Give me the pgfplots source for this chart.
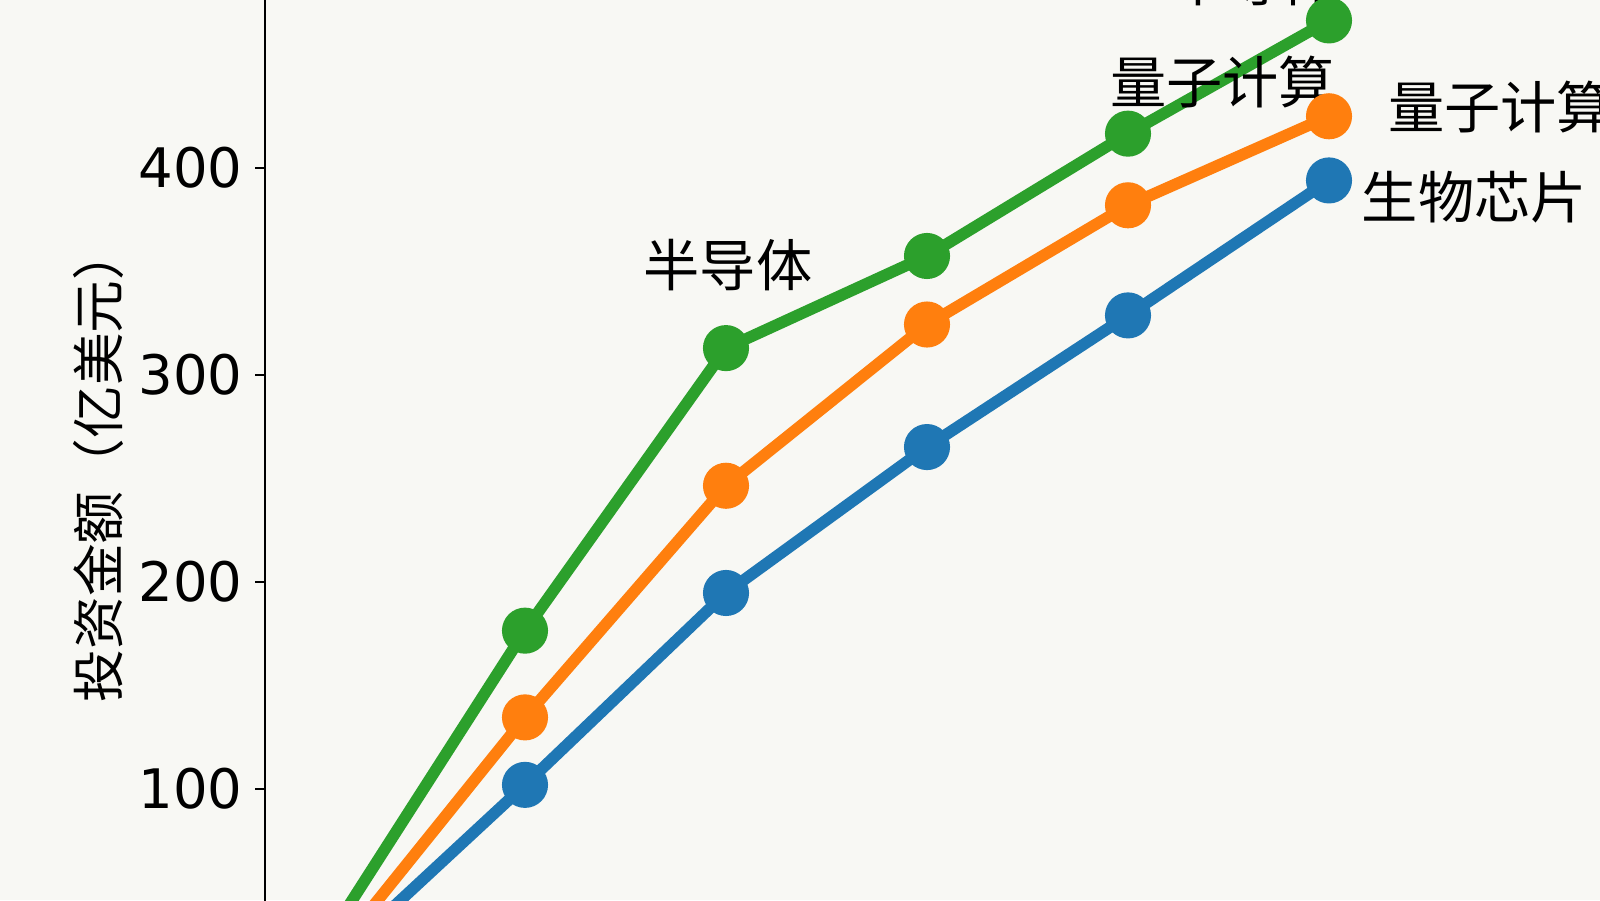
\documentclass[border=0pt]{standalone}
\usepackage{fontspec}
\setmainfont{DejaVu Sans}
\newfontfamily\cjk{Noto Sans CJK SC}
\usepackage{pgfplots}
\pgfplotsset{compat=1.18}
\definecolor{tabblue}{HTML}{1F77B4}
\definecolor{taborange}{HTML}{FF7F0E}
\definecolor{tabgreen}{HTML}{2CA02C}
\definecolor{paper}{RGB}{248,248,244}

\begin{document}
\begin{tikzpicture}
% page is a crop of a larger chart: 16cm x 9cm, 1px = 0.01cm
\useasboundingbox (0,0) rectangle (16,9);
\clip (0,0) rectangle (16,9);
\fill[paper] (0,0) rectangle (16,9);
\begin{axis}[
  at={(2.65cm,-0.96cm)}, anchor=south west,
  scale only axis,
  width=13.655cm, height=10.35cm,
  xmin=-0.2935, xmax=6.5,
  ymin=0, ymax=500,
  axis x line=none,
  axis y line*=left,
  axis line style={black, line width=0.75pt, -},
  ytick={100,200,300,400},
  tick align=outside,
  major tick length=0.1cm,
  every tick/.style={black, line width=0.75pt},
  /pgf/number format/assume math mode=true,
  yticklabel style={font=\fontsize{15.5}{18}\selectfont},
  ylabel={投资金额（亿美元）},
  ylabel style={at={(axis description cs:-0.1216,0.513)}, anchor=center,
    font=\cjk\fontsize{15}{18}\selectfont},
  clip=false,
  every axis plot/.append style={line width=3.3pt, mark=*, mark size=4.9pt},
]
% 生物芯片
\addplot[tabblue, mark options={fill=tabblue}] coordinates {
(0,12) (1,102) (2,194.7) (3,265.2) (4,328.8) (5,394)
};
% 量子计算
\addplot[taborange, mark options={fill=taborange}] coordinates {
(0,14) (1,134.6) (2,246.5) (3,324.4) (4,382) (5,425)
};
% 半导体
\addplot[tabgreen, mark options={fill=tabgreen}] coordinates {
(0,25) (1,176.5) (2,313) (3,357.5) (4,416.6) (5,471.3)
};
\begin{scope}[every node/.style={font=\cjk\fontsize{16}{19}\selectfont, inner sep=0pt}]
\node at (axis cs:2.01,353.1) {半导体};
\node at (axis cs:4.63,490.8) {半导体};
\node at (axis cs:4.47,441.5) {量子计算};
\node[anchor=west] at (axis cs:5.29,429.5) {量子计算};
\node[anchor=west] at (axis cs:5.16,386) {生物芯片};
\end{scope}
\end{axis}
\end{tikzpicture}
\end{document}
